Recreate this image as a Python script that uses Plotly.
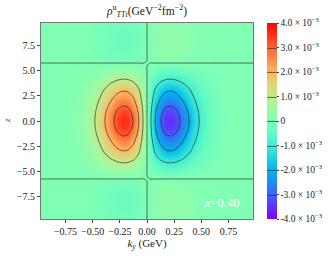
import plotly.graph_objects as go

# transverse momentum grid (GeV) and longitudinal coordinate grid
ky = [-0.975, -0.925, -0.875, -0.825, -0.775, -0.725, -0.675, -0.625, -0.575, -0.525,
      -0.475, -0.425, -0.375, -0.325, -0.275, -0.225, -0.175, -0.125, -0.075, -0.025,
      0.025, 0.075, 0.125, 0.175, 0.225, 0.275, 0.325, 0.375, 0.425, 0.475,
      0.525, 0.575, 0.625, 0.675, 0.725, 0.775, 0.825, 0.875, 0.925, 0.975]
# profile along ky through z = 0 (units of 1e-3 GeV^-2 fm^-2)
rho_ky = [0.0005, 0.0015, 0.004, 0.010, 0.024, 0.053, 0.11, 0.21, 0.38, 0.65,
          1.04, 1.55, 2.15, 2.77, 3.30, 3.58, 3.49, 2.96, 1.99, 0.70,
          -0.70, -1.99, -2.96, -3.49, -3.58, -3.30, -2.77, -2.15, -1.55, -1.04,
          -0.65, -0.38, -0.21, -0.11, -0.053, -0.024, -0.010, -0.004, -0.0015, -0.0005]
zvals = [-10.0, -9.5, -9.0, -8.5, -8.0, -7.5, -7.0, -6.5, -6.0, -5.5, -5.0, -4.5, -4.0,
         -3.5, -3.0, -2.5, -2.0, -1.5, -1.0, -0.5, 0.0, 0.5, 1.0, 1.5, 2.0, 2.5, 3.0,
         3.5, 4.0, 4.5, 5.0, 5.5, 6.0, 6.5, 7.0, 7.5, 8.0, 8.5, 9.0, 9.5, 10.0]
shape_z = [-0.062, -0.070, -0.078, -0.083, -0.085, -0.082, -0.072, -0.052, -0.025, 0.028,
           0.11, 0.205, 0.315, 0.435, 0.553, 0.645, 0.74, 0.835, 0.925, 0.98,
           1.0,
           0.98, 0.925, 0.835, 0.74, 0.645, 0.553, 0.435, 0.315, 0.205, 0.11,
           0.028, -0.025, -0.052, -0.072, -0.082, -0.085, -0.083, -0.078, -0.070, -0.062]

cb_vals = [-4e-3, -3e-3, -2e-3, -1e-3, 0, 1e-3, 2e-3, 3e-3, 4e-3]
cb_text = ["-4.0 × 10<sup>−3</sup>", "-3.0 × 10<sup>−3</sup>", "-2.0 × 10<sup>−3</sup>",
           "-1.0 × 10<sup>−3</sup>", "0", "1.0 × 10<sup>−3</sup>", "2.0 × 10<sup>−3</sup>",
           "3.0 × 10<sup>−3</sup>", "4.0 × 10<sup>−3</sup>"]

grid = [[a * 1e-3 * b for a in rho_ky] for b in shape_z]

rainbow = [
    [0.0, "rgb(128,0,255)"], [0.0625, "rgb(96,50,254)"], [0.125, "rgb(64,98,250)"],
    [0.1875, "rgb(32,142,244)"], [0.25, "rgb(0,180,236)"], [0.3125, "rgb(32,212,225)"],
    [0.375, "rgb(64,236,212)"], [0.4375, "rgb(96,250,197)"], [0.5, "rgb(128,255,180)"],
    [0.5625, "rgb(159,250,162)"], [0.625, "rgb(191,236,142)"], [0.6875, "rgb(223,212,120)"],
    [0.75, "rgb(255,180,98)"], [0.8125, "rgb(255,142,74)"], [0.875, "rgb(255,98,50)"],
    [0.9375, "rgb(255,50,25)"], [1.0, "rgb(255,0,0)"]]

serif = "Liberation Serif, Times New Roman, serif"

fig = go.Figure()
fig.add_trace(go.Contour(
    x=ky, y=zvals, z=grid,
    zmin=-4e-3, zmax=4e-3, colorscale=rainbow,
    contours=dict(coloring="heatmap", start=-3e-3, end=3e-3, size=1e-3, showlabels=False),
    line=dict(color="rgba(40,40,40,0.85)", width=0.8, smoothing=0.6),
    hoverinfo="skip",
    colorbar=dict(
        x=1.066, xanchor="left", xpad=0, y=0.5, yanchor="middle", ypad=0,
        len=1.0, lenmode="fraction", thickness=10, outlinewidth=0,
        tickvals=cb_vals, ticktext=cb_text, ticks="outside", ticklen=2,
        tickfont=dict(family=serif, size=9.5, color="#222")),
))

fig.add_annotation(x=0.69, y=-8.2, xref="x", yref="y", text="<i>x</i>=0.40",
                   showarrow=False, font=dict(family=serif, size=12.5, color="white"))
fig.add_annotation(x=-0.16, y=0.5, xref="paper", yref="paper", text="<i>z</i>",
                   textangle=-90, showarrow=False, xanchor="center", yanchor="middle",
                   font=dict(family=serif, size=9, color="#222"))

fig.update_layout(
    width=335, height=259,
    margin=dict(l=41, r=81, t=23, b=38),
    paper_bgcolor="white", plot_bgcolor="white",
    font=dict(family=serif, size=10, color="#222"),
    title=dict(text="<i>ρ</i><sup>u</sup><sub><i>TTt</i></sub>(GeV<sup>−2</sup>fm<sup>−2</sup>)",
               x=147 / 335, xanchor="center", y=1 - 11 / 259, yanchor="middle",
               font=dict(family=serif, size=11.5, color="#222")),
    xaxis=dict(range=[-0.975, 0.975], tickvals=[-0.75, -0.5, -0.25, 0, 0.25, 0.5, 0.75],
               ticktext=["−0.75", "−0.50", "−0.25", "0.00", "0.25", "0.50", "0.75"],
               ticks="outside", ticklen=3, showline=True, mirror=True, linecolor="#777",
               linewidth=1, showgrid=False, zeroline=False,
               title=dict(text="<i>k<sub>y</sub></i> (GeV)", standoff=2,
                          font=dict(family=serif, size=11))),
    yaxis=dict(range=[-9.75, 9.75], tickvals=[-7.5, -5, -2.5, 0, 2.5, 5, 7.5],
               ticktext=["−7.5", "−5.0", "−2.5", "0.0", "2.5", "5.0", "7.5"],
               ticks="outside", ticklen=3, showline=True, mirror=True, linecolor="#777",
               linewidth=1, showgrid=False, zeroline=False),
)

fig.write_html("out.html", config={"displayModeBar": False},
               post_script="document.body.style.margin='0px';")
